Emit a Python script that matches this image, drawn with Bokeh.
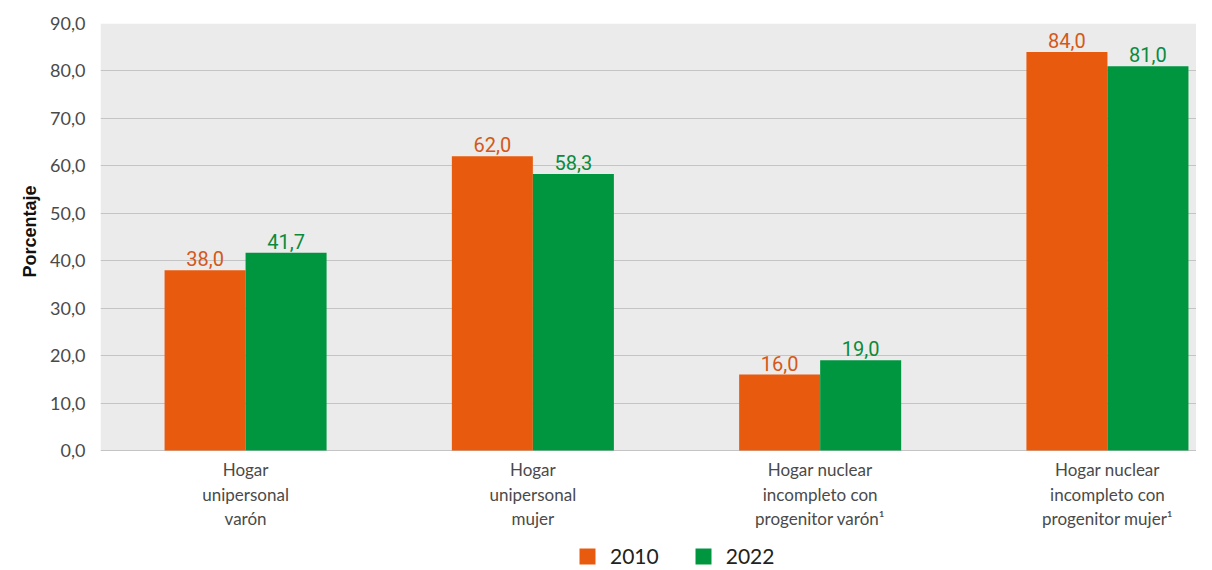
from bokeh.plotting import figure
from bokeh.models import (Range1d, ColumnDataSource, Legend, LegendItem, FixedTicker,
                          BoxAnnotation, Title)
from bokeh.core.properties import value
from bokeh.embed import file_html
from bokeh.resources import INLINE

categories = ["Hogar\nunipersonal\nvarón", "Hogar\nunipersonal\nmujer",
              "Hogar nuclear\nincompleto con\nprogenitor varón¹",
              "Hogar nuclear\nincompleto con\nprogenitor mujer¹"]
series_names = ["2010", "2022"]
values_2010 = [38.0, 62.0, 16.0, 84.0]
values_2022 = [41.7, 58.3, 19.0, 81.0]
y_ticks = [0, 10, 20, 30, 40, 50, 60, 70, 80, 90]

ORANGE = "#e85b0e"
GREEN = "#009640"
ORANGE_TXT = "#d4581a"
GREEN_TXT = "#0b8a3c"
BW = 0.282
LABEL_FONT = "Roboto"
BODY_FONT = "Lato"

xs = list(range(len(categories)))

def fmt(v):
    return f"{v:.1f}".replace(".", ",")

src = ColumnDataSource(dict(
    x1=[x - BW / 2 for x in xs], x2=[x + BW / 2 for x in xs],
    v1=values_2010, v2=values_2022,
    t1=[fmt(v) for v in values_2010], t2=[fmt(v) for v in values_2022],
))
cat_src = ColumnDataSource(dict(x=xs, y=[0] * len(xs), label=categories))

p = figure(width=1196, height=570, output_backend="svg", toolbar_location=None,
           x_axis_location=None,
           x_range=Range1d(-0.505, 3.31), y_range=Range1d(-25.3, 90),
           min_border_left=100, min_border_right=0, min_border_top=23, min_border_bottom=0)
p.background_fill_color = "white"
p.border_fill_color = "white"
p.outline_line_color = None

# grey plotting area from 0 to 90
p.add_layout(BoxAnnotation(bottom=0, top=90, fill_color="#ebebeb", fill_alpha=1,
                           line_color=None, level="image"))

r1 = p.vbar(x="x1", top="v1", width=BW, source=src, fill_color=ORANGE, line_color=None)
r2 = p.vbar(x="x2", top="v2", width=BW, source=src, fill_color=GREEN, line_color=None)

p.text(x="x1", y="v1", text="t1", source=src, text_align="center", text_baseline="bottom",
       y_offset=-4, text_color=ORANGE_TXT, text_font=value(LABEL_FONT), text_font_size="20px")
p.text(x="x2", y="v2", text="t2", source=src, text_align="center", text_baseline="bottom",
       y_offset=-4, text_color=GREEN_TXT, text_font=value(LABEL_FONT), text_font_size="20px")

# category labels under the zero line
p.text(x="x", y="y", text="label", source=cat_src, text_align="center", text_baseline="top",
       y_offset=9, text_color="#4a4a4a", text_font=value(BODY_FONT), text_font_size="17px",
       text_line_height=1.16)

# y axis
p.yaxis.ticker = FixedTicker(ticks=y_ticks)
p.yaxis.major_label_overrides = {t: fmt(t) for t in y_ticks}
p.yaxis.axis_line_color = None
p.yaxis.major_tick_line_color = None
p.yaxis.minor_tick_line_color = None
p.yaxis.major_label_text_font = BODY_FONT
p.yaxis.major_label_text_font_size = "18px"
p.yaxis.major_label_text_color = "#4a4a4a"
p.yaxis.major_label_standoff = 9

p.add_layout(Title(text="Porcentaje", align="left", offset=293, standoff=16,
                   text_font="Liberation Sans", text_font_style="bold",
                   text_font_size="18px", text_color="#111111"), "left")

p.xgrid.grid_line_color = None
p.ygrid.ticker = FixedTicker(ticks=y_ticks)
p.ygrid.grid_line_color = "#c4c4c4"
p.ygrid.grid_line_width = 1.2

legend = Legend(items=[LegendItem(label=series_names[0], renderers=[r1]),
                       LegendItem(label=series_names[1], renderers=[r2])],
                orientation="horizontal", location=(477, 2),
                glyph_width=20, glyph_height=20, label_standoff=13, spacing=34,
                label_text_font=BODY_FONT, label_text_font_size="21px",
                label_text_color="#222222", border_line_color=None,
                background_fill_alpha=0, margin=0, padding=0)
p.add_layout(legend, "center")

open("out.html", "w").write(file_html(p, INLINE))
